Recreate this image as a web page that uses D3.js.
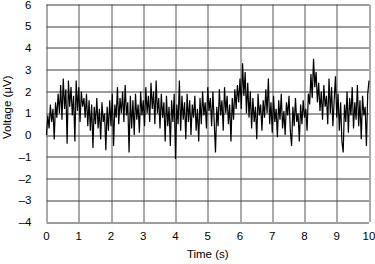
<!DOCTYPE html>
<html>
<head>
<meta charset="utf-8">
<script src="https://cdn.jsdelivr.net/npm/d3@7"></script>
<style>
	body { margin: 0; background: #fff; }
	svg text { font-family: "Liberation Sans", Arial, sans-serif; font-size: 11.5px; fill: #000; }
</style>
</head>
<body>
<svg id="chart" width="375" height="264"></svg>
<script>
(function () {
	// DATA (one sample every 0.04 s)
	var dt = 0.04;
	var voltage = [
		0.0, 0.9, 0.3, 1.4, 0.6, 1.2, -0.2, 1.5, 0.8, 1.9,
		1.0, 2.3, 0.7, 2.6, 1.2, 2.1, -0.4, 2.5, 1.3, 2.2,
		0.9, 1.8, -0.3, 2.5, 1.1, 2.2, 0.6, 2.0, 1.3, 1.7,
		0.8, 1.9, 0.4, 1.6, 0.2, 1.4, -0.6, 1.3, 0.5, 1.7,
		0.3, 1.2, -0.2, 1.5, 0.6, 1.0, -0.7, 1.3, 0.2, 1.6,
		0.4, 1.9, -0.5, 1.4, 0.8, 2.2, 0.5, 1.7, 1.0, 2.0,
		0.6, 2.3, 0.9, 1.5, -0.8, 1.8, 0.3, 1.6, 0.0, 1.9,
		0.7, 1.4, 0.1, 2.0, 0.9, 1.6, 0.4, 2.2, 1.0, 1.8,
		0.6, 2.4, 1.2, 2.0, 0.5, 2.5, 1.0, 1.7, 0.3, 1.9,
		0.8, 1.5, -0.3, 1.8, 0.4, 1.3, -0.5, 1.6, 0.6, 1.9,
		-1.1, 1.4, 0.5, 2.5, 0.2, 1.8, 0.7, 1.5, -0.2, 1.9,
		0.6, 1.6, 0.0, 1.4, 0.8, 1.8, 0.2, 1.2, -0.3, 1.7,
		0.5, 2.0, 0.9, 1.5, 0.3, 2.2, 1.1, 1.7, 0.4, 2.0,
		0.6, -0.8, 1.3, 0.4, 2.1, 0.9, 1.6, 0.2, 2.2, 1.0,
		1.8, 0.5, 1.4, -0.3, 1.7, 0.7, 2.1, 1.2, 2.3, 1.5,
		2.6, 1.2, 3.3, 1.8, 2.9, 1.0, 2.4, 0.8, 2.0, 0.3,
		1.7, 0.6, 1.3, -0.2, 1.9, 0.9, 1.4, 0.2, 1.6, 0.8,
		2.1, 1.0, 2.6, 0.5, 1.5, 0.1, 1.8, 0.6, 1.2, -0.1,
		1.6, 0.7, 1.9, 0.3, 1.1, 0.0, 1.5, 0.9, 1.8, 0.2,
		-0.5, 1.3, 0.4, 1.7, 0.6, 1.0, -0.3, 1.4, 0.5, 1.6,
		0.8, 1.2, 0.2, 1.9, 1.4, 2.8, 1.7, 3.5, 2.2, 2.9,
		1.5, 2.4, 1.1, 2.0, 0.7, 2.3, 1.3, 1.8, 0.5, 2.6,
		1.0, 2.2, 0.4, 1.6, 2.7, 0.8, 1.9, 0.2, 1.5, -0.3,
		-0.8, 1.4, 0.6, 2.0, 0.1, 1.7, 0.9, 2.2, 0.3, 1.5,
		0.7, 2.3, 0.4, 1.6, -0.2, 1.8, 0.9, 1.3, -0.5, 1.9,
		2.5
	];
	var xTicks = [0, 1, 2, 3, 4, 5, 6, 7, 8, 9, 10];
	var yTicks = [-4, -3, -2, -1, 0, 1, 2, 3, 4, 5, 6];
	var xTitle = "Time (s)";
	var yTitle = "Voltage (\u00B5V)";

	var margin = { top: 4.5, right: 6, bottom: 42, left: 46.5 };
	var svg = d3.select("#chart");
	var width = 375 - margin.left - margin.right;
	var height = 264 - margin.top - margin.bottom;

	var x = d3.scaleLinear().domain([0, 10]).range([0, width]);
	var y = d3.scaleLinear().domain([-4, 6]).range([height, 0]);

	var g = svg.append("g").attr("transform", "translate(" + margin.left + "," + margin.top + ")");

	// grid
	g.selectAll(".hgrid").data(yTicks).enter().append("line")
		.attr("class", "hgrid")
		.attr("x1", 0).attr("x2", width)
		.attr("y1", function (d) { return Math.round(y(d)) + 0.5; })
		.attr("y2", function (d) { return Math.round(y(d)) + 0.5; })
		.style("stroke", "#3a3a3a").style("stroke-width", 1);

	g.selectAll(".vgrid").data(xTicks).enter().append("line")
		.attr("class", "vgrid")
		.attr("y1", 0).attr("y2", height)
		.attr("x1", function (d) { return Math.round(x(d)) + 0.5; })
		.attr("x2", function (d) { return Math.round(x(d)) + 0.5; })
		.style("stroke", "#555").style("stroke-width", 1);

	// signal
	var line = d3.line()
		.x(function (d, i) { return x(i * dt); })
		.y(function (d) { return y(d); });

	g.append("path")
		.datum(voltage)
		.attr("d", line)
		.style("fill", "none")
		.style("stroke", "#000")
		.style("stroke-width", 1.2);

	// tick labels
	g.selectAll(".ylab").data(yTicks).enter().append("text")
		.attr("x", -15)
		.attr("y", function (d) { return y(d) + 4; })
		.attr("text-anchor", "end")
		.text(function (d) { return d < 0 ? "\u2013" + Math.abs(d) : d; });

	g.selectAll(".xlab").data(xTicks).enter().append("text")
		.attr("x", function (d) { return x(d); })
		.attr("y", height + 18)
		.attr("text-anchor", "middle")
		.text(function (d) { return d; });

	// titles
	g.append("text")
		.attr("x", width / 2)
		.attr("y", height + 36)
		.attr("text-anchor", "middle")
		.text(xTitle);

	svg.append("text")
		.attr("transform", "translate(11," + (margin.top + height / 2 - 6) + ") rotate(-90)")
		.attr("text-anchor", "middle")
		.text(yTitle);
})();
</script>
</body>
</html>
